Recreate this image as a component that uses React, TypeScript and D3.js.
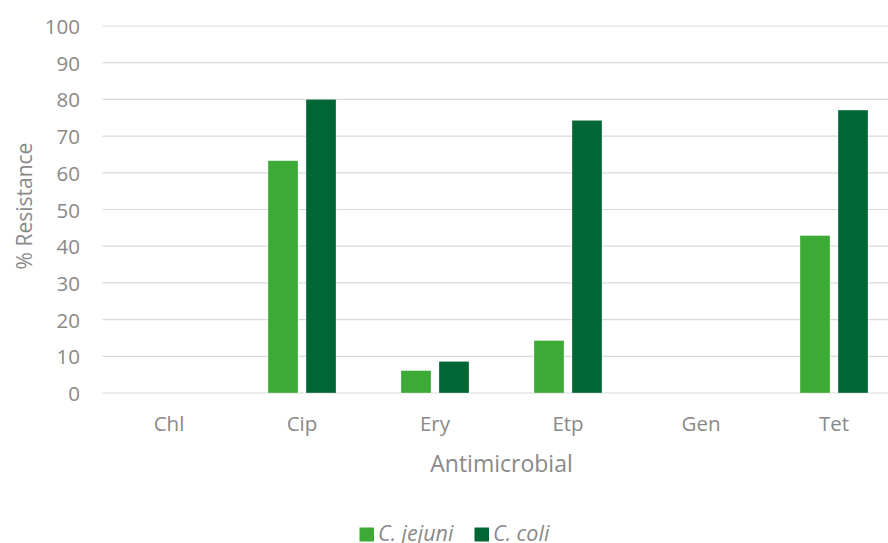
import React from "react";
import * as d3 from "d3";

const categories = ["Chl", "Cip", "Ery", "Etp", "Gen", "Tet"];
const seriesNames = ["C. jejuni", "C. coli"];
const jejuniValues = [0, 63.3, 6.1, 14.3, 0, 42.9];
const coliValues = [0, 80.0, 8.6, 74.3, 0, 77.1];
const yTicks = [0, 10, 20, 30, 40, 50, 60, 70, 80, 90, 100];
const seriesColors = ["#3DAA35", "#006633"];

const W = 888;
const H = 543;
const FONT = "'Open Sans', 'Liberation Sans', sans-serif";
const TEXT = "#898989";

export default function App() {
  const x = d3.scaleBand<string>().domain(categories).range([102.5, 900.5]).paddingInner(0).paddingOuter(0);
  const y = d3.scaleLinear().domain([0, 100]).range([393, 26]);
  const barW = 30;
  const gap = 8;
  const series = [jejuniValues, coliValues];

  return (
    <svg
      width={W}
      height={H}
      style={{ position: "absolute", left: 0, top: 0, background: "#fff" }}
      fontFamily={FONT}
    >
      {yTicks.map((t) => (
        <g key={t}>
          <line x1={102.5} x2={W} y1={y(t)} y2={y(t)} stroke="#D9D9D9" strokeWidth={1.2} />
          <text x={80} y={y(t)} textAnchor="end" dominantBaseline="central" fill={TEXT} fontSize={20.5}>
            {t}
          </text>
        </g>
      ))}
      {categories.map((c, i) => {
        const cx = x(c)! + x.bandwidth() / 2;
        return (
          <g key={c}>
            {series.map((vals, s) => {
              const bx = s === 0 ? cx - gap / 2 - barW : cx + gap / 2;
              const v = vals[i];
              if (v <= 0) return null;
              return (
                <rect
                  key={s}
                  x={bx}
                  y={y(v)}
                  width={barW}
                  height={y(0) - y(v)}
                  fill={seriesColors[s]}
                  stroke="#ffffff"
                  strokeOpacity={0.5}
                  strokeWidth={0.6}
                />
              );
            })}
            <text x={cx} y={431} textAnchor="middle" fill={TEXT} fontSize={20.5}>
              {c}
            </text>
          </g>
        );
      })}
      <text x={501.5} y={472} textAnchor="middle" fill={TEXT} fontSize={23}>
        Antimicrobial
      </text>
      <text
        transform={`translate(32,206) rotate(-90)`}
        textAnchor="middle"
        fill={TEXT}
        fontSize={21}
      >
        % Resistance
      </text>
      {/* legend */}
      {[
        { sx: 359.5, tx: 378 },
        { sx: 474.5, tx: 493 },
      ].map((l, i) => (
        <g key={i}>
          <rect x={l.sx} y={527.5} width={14.5} height={14} fill={seriesColors[i]} />
          <text x={l.tx} y={540.5} fill={TEXT} fontSize={21.5} fontStyle="italic">
            {seriesNames[i]}
          </text>
        </g>
      ))}
    </svg>
  );
}
